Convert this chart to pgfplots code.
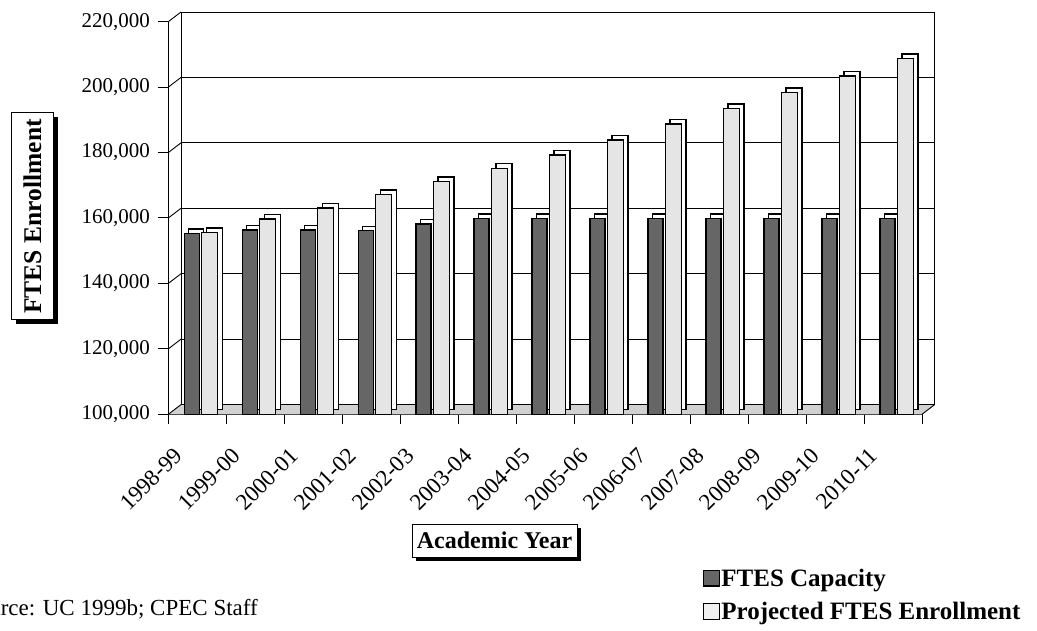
\documentclass[border=0pt]{standalone}
\usepackage{fontspec}
\setmainfont{Liberation Serif}
\usepackage{pgfplots}
\pgfplotsset{compat=1.18}
\usepackage{pgfplotstable}
\usetikzlibrary{shadows}

\pgfplotstableread{
x cap proj
0 155300 155600
1 156300 159700
2 156300 163000
3 156100 167200
4 158200 171100
5 159900 175200
6 159900 179300
7 159900 183800
8 159900 188700
9 159900 193500
10 159900 198300
11 159900 203400
12 159900 208800
}\datatable

\begin{document}
\begin{tikzpicture}
\useasboundingbox (-168.3bp,-216.7bp) rectangle (868.7bp,414.3bp);
\begin{axis}[
  at={(0,0)}, anchor=south west,
  scale only axis, width=753.7bp, height=392.6bp,
  xmin=-0.5, xmax=12.5, ymin=100000, ymax=220000,
  clip mode=individual,
  axis x line*=bottom, axis y line*=left,
  axis line style={line width=1.2bp, black},
  tick style={line width=1bp, black},
  tick align=outside,
  major tick length=10bp,
  xtick={-0.5,0.5,...,12.5},
  xticklabels={},
  extra x ticks={0,1,...,12},
  extra x tick labels={1998-99,1999-00,2000-01,2001-02,2002-03,2003-04,2004-05,2005-06,2006-07,2007-08,2008-09,2009-10,2010-11},
  extra x tick style={major tick length=0pt},
  xticklabel style={rotate=45, anchor=north east, inner sep=0pt, xshift=-40bp, yshift=-5bp, font=\fontsize{23bp}{27bp}\selectfont},
  ytick={100000,120000,...,220000},
  scaled y ticks=false,
  yticklabel style={/pgf/number format/fixed, /pgf/number format/1000 sep={,}, /pgf/number format/assume math mode=true,
    font=\fontsize{21bp}{25bp}\selectfont, xshift=-5bp},
  legend style={at={(axis description cs:0.7094,-0.3889)}, anchor=north west, draw=none, fill=none,
    inner sep=0pt, font=\bfseries\fontsize{25bp}{29bp}\selectfont, row sep=11.5bp,
    nodes={inner sep=1.5bp}, cells={anchor=base west}},
]
  \fill[black!18] (axis cs:-0.5,100000) -- (axis cs:12.5,100000) -- ([shift={(12.7bp,9.7bp)}]axis cs:12.5,100000) -- ([shift={(12.7bp,9.7bp)}]axis cs:-0.5,100000) -- cycle;
  \pgfplotsinvokeforeach{100000,120000,140000,160000,180000,200000,220000}{
    \draw[line width=0.9bp] ([shift={(12.7bp,9.7bp)}]axis cs:-0.5,#1) -- ([shift={(12.7bp,9.7bp)}]axis cs:12.5,#1);
    \draw[line width=0.9bp] (axis cs:-0.5,#1) -- ([shift={(12.7bp,9.7bp)}]axis cs:-0.5,#1);
  }
  \draw[line width=0.9bp] ([shift={(12.7bp,9.7bp)}]axis cs:-0.5,100000) -- ([shift={(12.7bp,9.7bp)}]axis cs:-0.5,220000);
  \draw[line width=0.9bp] ([shift={(12.7bp,9.7bp)}]axis cs:12.5,100000) -- ([shift={(12.7bp,9.7bp)}]axis cs:12.5,220000);
  \draw[line width=0.9bp] (axis cs:12.5,100000) -- ([shift={(12.7bp,9.7bp)}]axis cs:12.5,100000);

\addplot[ybar, bar width=15bp, bar shift=-1bp, yshift=4.5bp, fill=white, draw=black, line width=1.4bp, forget plot]
  table[x=x, y=cap]{\datatable};
\addplot[ybar, bar width=15bp, bar shift=-5.5bp, fill=black!60, draw=black, line width=1.4bp,
  legend image code/.code={\draw[fill=black!60, draw=black, line width=1.2bp] (0bp,0bp) rectangle (15.5bp,15.5bp);}]
  table[x=x, y=cap]{\datatable};
\addlegendentry{FTES Capacity}
\addplot[ybar, bar width=16bp, bar shift=17bp, yshift=4.5bp, fill=white, draw=black, line width=1.4bp, forget plot]
  table[x=x, y=proj]{\datatable};
\addplot[ybar, bar width=16bp, bar shift=12.5bp, fill=black!10, draw=black, line width=1.4bp,
  legend image code/.code={\draw[fill=black!6, draw=black, line width=1.2bp] (0bp,0bp) rectangle (15.5bp,15.5bp);}]
  table[x=x, y=proj]{\datatable};
\addlegendentry{Projected FTES Enrollment}
\end{axis}

\node[draw, line width=1bp, fill=white, minimum width=41.6bp, minimum height=207bp, inner sep=0pt,
  drop shadow={shadow xshift=4.5bp, shadow yshift=-4.5bp, opacity=1, fill=black}]
  at (-135.8bp,197.8bp) {\rotatebox{90}{\bfseries\fontsize{25.5bp}{29bp}\selectfont FTES Enrollment}};
\node[draw, line width=1bp, fill=white, minimum width=165bp, minimum height=33bp, inner sep=0pt,
  drop shadow={shadow xshift=4bp, shadow yshift=-4bp, opacity=1, fill=black}]
  at (326.2bp,-126.2bp) {\bfseries\fontsize{24bp}{28bp}\selectfont Academic Year};
\node[anchor=base east, inner sep=0pt] at (89.7bp,-200.7bp) {\fontsize{23bp}{27bp}\selectfont Source: UC 1999b; CPEC Staff};
\end{tikzpicture}
\end{document}
